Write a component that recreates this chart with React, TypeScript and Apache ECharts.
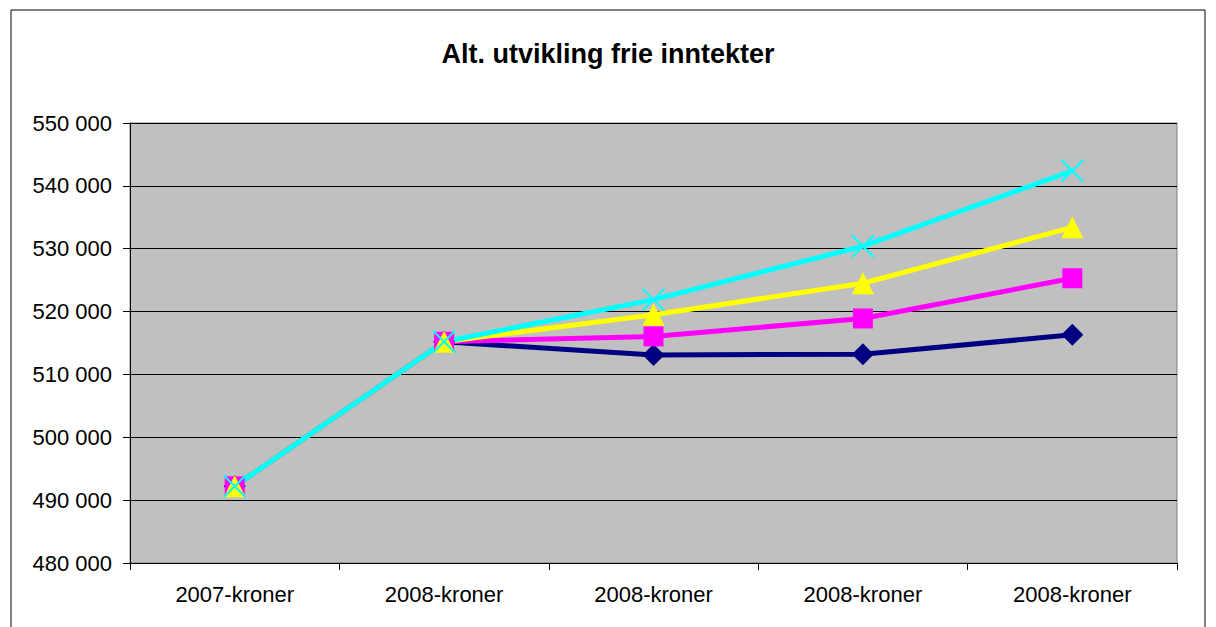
import React, { useEffect, useRef } from "react";
import * as echarts from "echarts";

const categories = ["2007-kroner", "2008-kroner", "2008-kroner", "2008-kroner", "2008-kroner"];
const seriesNavy = [492200, 515200, 513100, 513200, 516300];
const seriesMagenta = [492200, 515200, 516050, 518900, 525300];
const seriesYellow = [492200, 515200, 519500, 524500, 533400];
const seriesCyan = [492200, 515200, 521900, 530400, 542400];
const yMin = 480000;
const yMax = 550000;
const yStep = 10000;

const fmt = (v: number) => {
  const s = String(Math.round(v));
  return s.replace(/\B(?=(\d{3})+(?!\d))/g, " ");
};

export default function App() {
  const ref = useRef<HTMLDivElement>(null);
  useEffect(() => {
    if (!ref.current) return;
    const chart = echarts.init(ref.current, undefined, { renderer: "svg" });
    const font = "Liberation Sans, Arial, sans-serif";
    const mk = (name: string, data: number[], color: string, symbol: string, size: number, extra: any = {}) => ({
      name,
      type: "line",
      data,
      symbol,
      symbolSize: size,
      showSymbol: true,
      lineStyle: { color, width: 5 },
      itemStyle: { color },
      z: 2,
      ...extra,
    });
    chart.setOption({
      animation: false,
      backgroundColor: "#ffffff",
      title: {
        text: "Alt. utvikling frie inntekter",
        left: "center",
        top: 35,
        textStyle: { fontFamily: font, fontSize: 27, fontWeight: "bold", color: "#000" },
      },
      graphic: [
        {
          type: "rect",
          shape: { x: 11, y: 10, width: 1194, height: 640 },
          style: { fill: "none", stroke: "#000", lineWidth: 1 },
          silent: true,
          z: -1,
        },
      ],
      grid: {
        left: 130,
        right: 39,
        top: 123,
        bottom: 64,
        show: true,
        backgroundColor: "#c0c0c0",
        borderColor: "#808080",
        borderWidth: 1,
      },
      xAxis: {
        type: "category",
        data: categories,
        boundaryGap: true,
        axisLine: { lineStyle: { color: "#000", width: 1 } },
        axisTick: { show: true, length: 7, lineStyle: { color: "#000" } },
        axisLabel: { fontFamily: font, fontSize: 22, color: "#000", margin: 20, interval: 0 },
        splitLine: { show: false },
      },
      yAxis: {
        type: "value",
        min: yMin,
        max: yMax,
        interval: yStep,
        axisLine: { show: true, lineStyle: { color: "#000", width: 1 } },
        axisTick: { show: true, length: 7, lineStyle: { color: "#000" } },
        axisLabel: { fontFamily: font, fontSize: 22, color: "#000", margin: 18, formatter: fmt },
        splitLine: { show: true, lineStyle: { color: "#000", width: 1 } },
      },
      series: [
        mk("A", seriesNavy, "#000080", "diamond", 22),
        mk("B", seriesMagenta, "#ff00ff", "rect", 20),
        mk("C", seriesYellow, "#ffff00", "triangle", 22),
        {
          ...mk("D", seriesCyan, "#00ffff", "path://M0 0L20 20M20 0L0 20", 22),
          itemStyle: { color: "none", borderColor: "#00ffff", borderWidth: 2 },
        },
      ],
    });
    return () => chart.dispose();
  }, []);
  return (
    <div
      ref={ref}
      style={{ position: "fixed", left: 0, top: 0, width: 1216, height: 627 }}
    />
  );
}
